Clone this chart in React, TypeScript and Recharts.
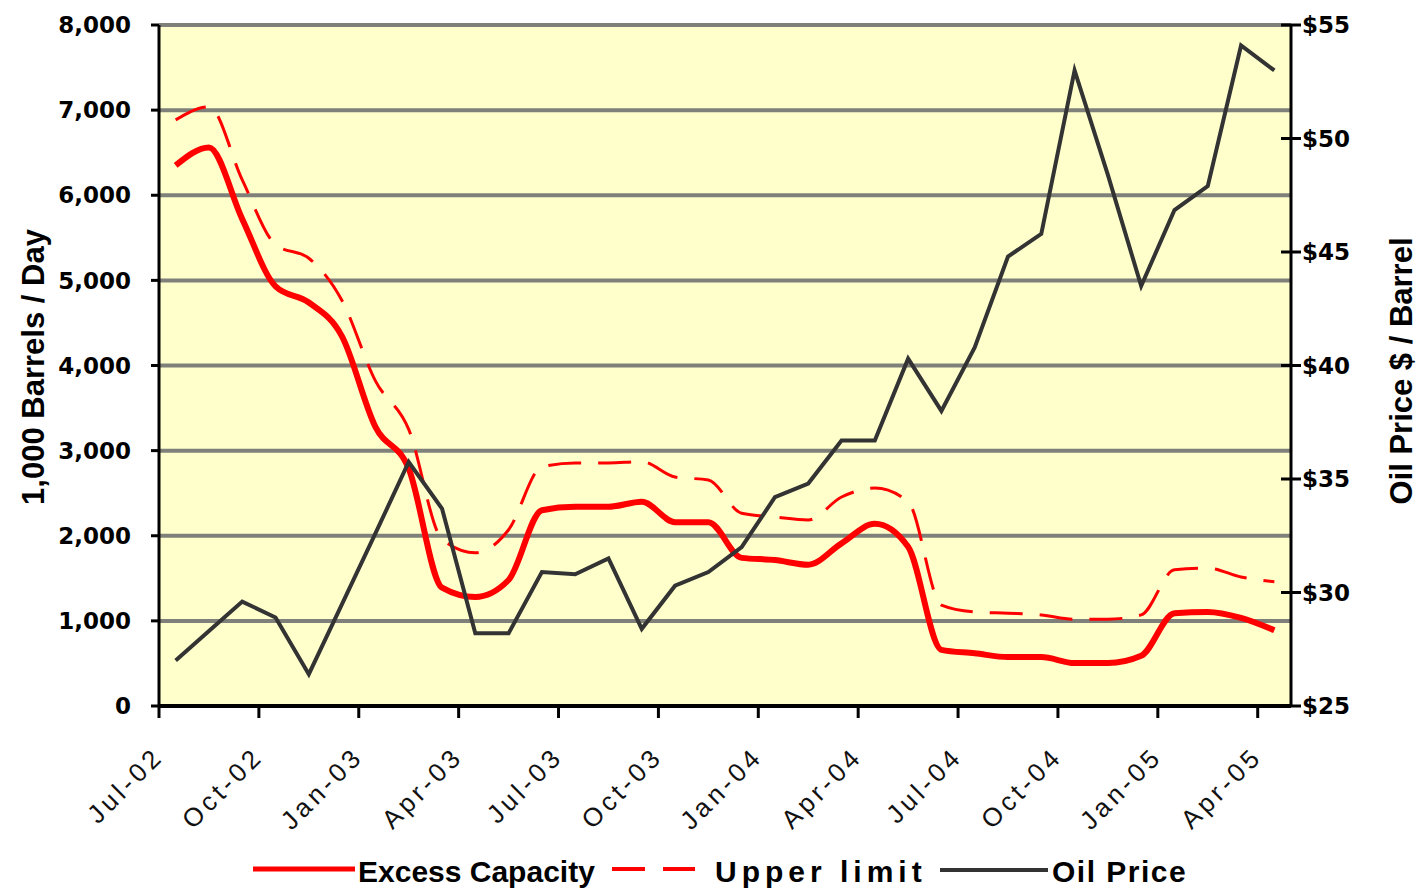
import React from "react";
import {
  CartesianGrid,
  Label,
  Legend,
  Line,
  LineChart,
  XAxis,
  YAxis
} from "recharts";

const months = [
  "Jul-02", "Aug-02", "Sep-02", "Oct-02", "Nov-02", "Dec-02",
  "Jan-03", "Feb-03", "Mar-03", "Apr-03", "May-03", "Jun-03",
  "Jul-03", "Aug-03", "Sep-03", "Oct-03", "Nov-03", "Dec-03",
  "Jan-04", "Feb-04", "Mar-04", "Apr-04", "May-04", "Jun-04",
  "Jul-04", "Aug-04", "Sep-04", "Oct-04", "Nov-04", "Dec-04",
  "Jan-05", "Feb-05", "Mar-05", "Apr-05"
];

// 1,000 barrels / day
const excessCapacity = [
  6350, 6560, 5720, 4930, 4740, 4340, 3280, 2790, 1390, 1280, 1480, 2300,
  2340, 2340, 2400, 2160, 2160, 1740, 1715, 1660, 1910, 2140, 1870, 660,
  620, 575, 575, 505, 505, 590, 1090, 1105, 1035, 890
];

const upperLimit = [
  6885, 7040, 6180, 5420, 5260, 4760, 3820, 3250, 1960, 1800, 2070, 2810,
  2855, 2855, 2870, 2690, 2655, 2265, 2220, 2185, 2455, 2560, 2400, 1185,
  1105, 1090, 1070, 1020, 1020, 1070, 1600, 1620, 1515, 1460
];

// $ / barrel
const oilPrice = [
  27.0, 28.3, 29.6, 28.9, 26.4, 29.5, 32.6, 35.75, 33.7, 28.2, 28.2, 30.9,
  30.8, 31.5, 28.4, 30.3, 30.9, 32.0, 34.2, 34.8, 36.7, 36.7, 40.3, 38.0,
  40.8, 44.8, 45.8, 53.0, 48.4, 43.5, 46.85, 47.9, 54.1, 53.0
];

const xTicks = [0, 3, 6, 9, 12, 15, 18, 21, 24, 27, 30, 33];
const xTickLabels = [
  "Jul-02", "Oct-02", "Jan-03", "Apr-03", "Jul-03", "Oct-03",
  "Jan-04", "Apr-04", "Jul-04", "Oct-04", "Jan-05", "Apr-05"
];
const leftTicks = [0, 1000, 2000, 3000, 4000, 5000, 6000, 7000, 8000];
const rightTicks = [25, 30, 35, 40, 45, 50, 55];

const rows = months.map((m, i) => ({
  month: m,
  x: i + 0.5,
  excess: excessCapacity[i],
  upper: upperLimit[i],
  oil: oilPrice[i]
}));

const tickFont = { fill: "#000", fontSize: 23, fontWeight: "bold", fontFamily: "DejaVu Sans" };

function XTick(props: any) {
  const { x, y, payload } = props;
  const idx = xTicks.indexOf(payload.value);
  const tx = x + 6;
  return (
    <text
      x={tx}
      y={y}
      transform={`rotate(-45, ${tx}, ${y})`}
      textAnchor="end"
      fill="#111"
      fontSize={26}
      fontFamily="Liberation Sans"
      letterSpacing={4}
    >
      {idx >= 0 ? xTickLabels[idx] : ""}
    </text>
  );
}

function RightTick(props: any) {
  const { x, y, payload } = props;
  return (
    <g>
      <line x1={x - 21} x2={x - 11} y1={y} y2={y} stroke="#000" strokeWidth={3} />
      <text x={x} y={y} dy="0.36em" textAnchor="start" {...tickFont}>
        {"$" + payload.value}
      </text>
    </g>
  );
}

function ChartLegend() {
  const font = { fontSize: 30, fontWeight: "bold", fontFamily: "Liberation Sans", fill: "#000" };
  return (
    <svg width={1418} height={40} style={{ display: "block" }}>
      <line x1={253} x2={355} y1={18} y2={18} stroke="#ff0000" strokeWidth={5} />
      <text x={358} y={31} {...font}>Excess Capacity</text>
      <line x1={612} x2={695} y1={18} y2={18} stroke="#ff0000" strokeWidth={4} strokeDasharray="33 18" />
      <text x={715} y={31} {...font} letterSpacing={5}>Upper limit</text>
      <line x1={940} x2={1048} y1={19} y2={19} stroke="#333333" strokeWidth={4} />
      <text x={1052} y={31} {...font} letterSpacing={1.5}>Oil Price</text>
    </svg>
  );
}

export default function App() {
  return (
    <div style={{ width: 1418, height: 891 }}>
      <style>{"body{margin:0}"}</style>
      <LineChart width={1418} height={891} data={rows} margin={{ top: 25, right: 0, bottom: 0, left: 0 }}>
        <CartesianGrid
          yAxisId="left"
          vertical={false}
          stroke="#80807a"
          strokeWidth={4}
          fill="#ffffcc"
          fillOpacity={1}
        />
        <XAxis
          dataKey="x"
          type="number"
          domain={[0, 34]}
          ticks={xTicks}
          interval={0}
          height={145}
          axisLine={{ stroke: "#000", strokeWidth: 4 }}
          tickLine={{ stroke: "#000", strokeWidth: 3 }}
          tickSize={12}
          tickMargin={40}
          tick={<XTick />}
        />
        <YAxis
          yAxisId="left"
          domain={[0, 8000]}
          ticks={leftTicks}
          interval={0}
          width={159}
          axisLine={{ stroke: "#000", strokeWidth: 3 }}
          tickLine={{ stroke: "#000", strokeWidth: 3 }}
          tickSize={8}
          tickMargin={20}
          tick={tickFont}
          tickFormatter={(v) => Number(v).toLocaleString("en-US")}
        >
          <Label
            content={() => (
              <text
                x={44}
                y={367}
                transform="rotate(-90, 44, 367)"
                textAnchor="middle"
                fontSize={31}
                fontWeight="bold"
                fontFamily="Liberation Sans"
                fill="#000"
              >
                1,000 Barrels / Day
              </text>
            )}
          />
        </YAxis>
        <YAxis
          yAxisId="right"
          orientation="right"
          domain={[25, 55]}
          ticks={rightTicks}
          interval={0}
          width={127}
          axisLine={{ stroke: "#000", strokeWidth: 3 }}
          tickLine={{ stroke: "#000", strokeWidth: 3 }}
          tickSize={10}
          tickMargin={1}
          tick={<RightTick />}
        >
          <Label
            content={() => (
              <text
                x={1412}
                y={371}
                transform="rotate(-90, 1412, 371)"
                textAnchor="middle"
                fontSize={31}
                fontWeight="bold"
                fontFamily="Liberation Sans"
                fill="#000"
              >
                Oil Price $ / Barrel
              </text>
            )}
          />
        </YAxis>
        <Legend verticalAlign="bottom" height={40} content={() => <ChartLegend />} />
        <Line
          yAxisId="left"
          type="monotone"
          dataKey="upper"
          name="Upper limit"
          stroke="#ff0000"
          strokeWidth={3}
          strokeDasharray="33 17"
          dot={false}
          activeDot={false}
          isAnimationActive={false}
        />
        <Line
          yAxisId="left"
          type="monotone"
          dataKey="excess"
          name="Excess Capacity"
          stroke="#ff0000"
          strokeWidth={6}
          dot={false}
          activeDot={false}
          isAnimationActive={false}
        />
        <Line
          yAxisId="right"
          type="linear"
          dataKey="oil"
          name="Oil Price"
          stroke="#333333"
          strokeWidth={4}
          dot={false}
          activeDot={false}
          isAnimationActive={false}
        />
      </LineChart>
    </div>
  );
}
